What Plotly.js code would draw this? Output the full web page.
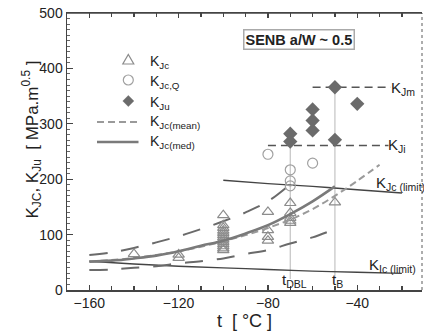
<!DOCTYPE html>
<html>
<head>
<meta charset="utf-8">
<script src="https://cdn.plot.ly/plotly-3.0.1.min.js"></script>
<style>html,body{margin:0;padding:0;background:#fff;}#chart{width:424px;height:331px;}</style>
</head>
<body>
<div id="chart"></div>
<script>
// ---- data ----
var tJc  = [-140, -120, -120, -100, -100, -100, -100, -100, -100, -100, -100, -100, -100, -100, -100, -100, -80, -80, -80, -80, -70, -70, -70, -70, -70, -50];
var KJc  = [65, 64, 58, 135, 117, 112, 107, 103, 99, 95, 91, 87, 83, 79, 75, 72, 141, 108, 96, 89, 157, 139, 130, 125, 121, 158];
var tQ   = [-80, -70, -70, -70, -60];
var KJcQ = [245, 217, 197, 188, 229];
var tU   = [-70, -70, -60, -60, -60, -50, -50, -40];
var KJu  = [282, 268, 326, 306, 288, 366, 271, 336];

var tMean  = [-160, -150, -140, -130, -120, -110, -100, -90, -80, -70, -60, -50, -40, -30];
var KMean  = [52, 54, 58, 63, 70, 78, 88, 99, 112, 127, 146, 170, 197, 226];
var tMed   = [-160, -150, -140, -130, -120, -110, -100, -90, -80, -70, -60, -50];
var KMed   = [51, 53, 57, 62, 70, 80, 89, 102, 117, 137, 160, 187];
var tUpper = [-160, -150, -140, -130, -120, -110, -100, -90, -80, -70];
var KUpper = [63, 68, 76, 86, 97, 110, 124, 140, 160, 191];
var tLower = [-160, -150, -140, -130, -120, -110, -100, -90, -80, -70, -60, -50];
var KLower = [36, 37, 40, 43, 48, 52, 57, 65, 72, 84, 95, 110];
var tJcLim = [-100, -80, -60, -40, -20];
var KJcLim = [198, 192, 187, 181, 175];
var tIcLim = [-160, -140, -120, -100, -80, -60, -40, -20];
var KIcLim = [52, 47, 43, 40, 37, 34, 32, 30];

var tRef      = [-70, -50];          // t_DBL, t_B
var refTop    = [290, 366];
var refBottom = 20;
var KJm = 366, tJmRange = [-60, -25];
var KJi = 261, tJiRange = [-80, -26];

var xTickVals = [-160, -120, -80, -40];
var yTickVals = [0, 100, 200, 300, 400, 500];
var legendNames = ['K<sub>Jc</sub>', 'K<sub>Jc,Q</sub>', 'K<sub>Ju</sub>', 'K<sub>Jc(mean)</sub>', 'K<sub>Jc(med)</sub>'];

// ---- styles ----
var FONT = 'Liberation Sans, Arial, Helvetica, sans-serif';
var C_TRI = '#8c8c8c', C_CIR = '#a0a0a0', C_DIA = '#6b6b6b', C_MEAN = '#9a9a9a', C_MED = '#7a7a7a';
var W = 424, H = 331, ML = 67, MR = 2, MT = 13, MB = 41;
var plotW = W - ML - MR, plotH = H - MT - MB;
function px(x) { return (x - ML) / plotW; }
function py(y) { return 1 - (y - MT) / plotH; }

var traces = [];
tRef.forEach(function (t, i) {
  traces.push({x: [t, t], y: [refBottom, refTop[i]], mode: 'lines', line: {color: '#c4c4c4', width: 1.2}});
});
traces.push({x: tJmRange, y: [KJm, KJm], mode: 'lines', line: {color: '#555', width: 1.5, dash: '8px,5px'}});
traces.push({x: tJiRange, y: [KJi, KJi], mode: 'lines', line: {color: '#555', width: 1.5, dash: '8px,5px'}});
traces.push({x: tJcLim, y: KJcLim, mode: 'lines', line: {color: '#444', width: 1.4, shape: 'spline'}});
traces.push({x: tIcLim, y: KIcLim, mode: 'lines', line: {color: '#444', width: 1.4, shape: 'spline'}});
traces.push({x: tUpper, y: KUpper, mode: 'lines', line: {color: '#6a6a6a', width: 2, dash: '18px,14px', shape: 'spline'}});
traces.push({x: tLower, y: KLower, mode: 'lines', line: {color: '#6a6a6a', width: 2, dash: '18px,14px', shape: 'spline'}});
traces.push({x: tJc, y: KJc, mode: 'markers', marker: {symbol: 'triangle-up-open', size: 10, color: C_TRI, line: {width: 1.2}}});
traces.push({x: tQ, y: KJcQ, mode: 'markers', marker: {symbol: 'circle-open', size: 10, color: C_CIR, line: {width: 1.2}}});
traces.push({x: tU, y: KJu, mode: 'markers', marker: {symbol: 'diamond', size: 11, color: C_DIA}});
traces.push({x: tMean, y: KMean, mode: 'lines', line: {color: C_MEAN, width: 2, dash: '7px,4px', shape: 'spline'}});
traces.push({x: tMed, y: KMed, mode: 'lines', line: {color: C_MED, width: 2.6, shape: 'spline'}});
traces.forEach(function (tr) { tr.showlegend = false; tr.hoverinfo = 'skip'; });

var ann = function (x, y, text) {
  return {x: x, y: y, xref: 'x', yref: 'y', text: text, showarrow: false,
    xanchor: 'left', yanchor: 'middle', font: {family: FONT, size: 15, color: '#222'}};
};

// ---- hand-drawn legend (symbols as shapes, text as annotations) ----
var legRows = [60, 80, 101, 120, 140];
var symX = 128.3, lineX0 = 97, lineX1 = 138.5, textX = 148;
var shapes = [
  {type: 'line', xref: 'paper', yref: 'paper', x0: 1, x1: 1, y0: 0, y1: 1, line: {color: '#777', width: 1.2, dash: 'dot'}},
  {type: 'line', xref: 'paper', yref: 'paper', x0: 0, x1: 1, y0: 1, y1: 1, line: {color: '#444', width: 1.5}}
];
function pathPoly(pts) {
  return 'M' + pts.map(function (p) { return px(p[0]) + ',' + py(p[1]); }).join('L') + 'Z';
}
var r0 = legRows[0], r1 = legRows[1], r2 = legRows[2];
shapes.push({type: 'path', xref: 'paper', yref: 'paper',
  path: pathPoly([[symX - 5.5, r0 + 4], [symX + 5.5, r0 + 4], [symX, r0 - 5.5]]),
  line: {color: C_TRI, width: 1.2}});
shapes.push({type: 'circle', xref: 'paper', yref: 'paper',
  x0: px(symX - 5), x1: px(symX + 5), y0: py(r1 + 5), y1: py(r1 - 5), line: {color: C_CIR, width: 1.2}});
shapes.push({type: 'path', xref: 'paper', yref: 'paper',
  path: pathPoly([[symX - 5.5, r2], [symX, r2 - 5.5], [symX + 5.5, r2], [symX, r2 + 5.5]]),
  fillcolor: C_DIA, line: {color: C_DIA, width: 0.5}});
shapes.push({type: 'line', xref: 'paper', yref: 'paper', x0: px(lineX0), x1: px(lineX1), y0: py(legRows[3] + 2), y1: py(legRows[3] + 2),
  line: {color: C_MEAN, width: 2, dash: '7px,4px'}});
shapes.push({type: 'line', xref: 'paper', yref: 'paper', x0: px(lineX0), x1: px(lineX1), y0: py(legRows[4] + 2), y1: py(legRows[4] + 2),
  line: {color: C_MED, width: 2.6}});

var annotations = [
  {x: -66.3, y: 453, xref: 'x', yref: 'y', text: '<b>SENB a/W ~ 0.5</b>', showarrow: false,
   font: {family: FONT, size: 14.5, color: '#222'}, bordercolor: '#aaa', borderwidth: 1.5,
   borderpad: 1, bgcolor: '#fff', xanchor: 'center', yanchor: 'middle'},
  ann(-26, 364, 'K<sub>Jm</sub>'),
  ann(-27, 260, 'K<sub>Ji</sub>'),
  ann(-32.4, 193, 'K<sub>Jc (limit)</sub>'),
  ann(-35.8, 45, 'K<sub>Ic (limit)</sub>'),
  ann(-74.6, 18, 't<sub>DBL</sub>'),
  ann(-52.2, 18, 't<sub>B</sub>'),
  {x: px(17), y: py(140), xref: 'paper', yref: 'paper',
   text: 'K<sub>JC</sub>, K<sub>Ju</sub>  [ MPa.m<sup>0.5</sup> ]',
   showarrow: false, textangle: -90, font: {family: FONT, size: 17, color: '#222'}}
];
legendNames.forEach(function (name, i) {
  annotations.push({x: px(textX), y: py(legRows[i] + 2), xref: 'paper', yref: 'paper', text: name,
    showarrow: false, xanchor: 'left', yanchor: 'middle', font: {family: FONT, size: 14, color: '#222'}});
});

var layout = {
  width: W, height: H,
  margin: {l: ML, r: MR, t: MT, b: MB},
  paper_bgcolor: '#fff', plot_bgcolor: '#fff',
  font: {family: FONT, color: '#222', size: 14},
  showlegend: false,
  xaxis: {range: [-170, -11], tickvals: xTickVals, ticks: 'inside', ticklen: 5, tickwidth: 1.2,
    tickcolor: '#444', showline: true, linecolor: '#444', linewidth: 1.5, mirror: 'ticks',
    showgrid: false, zeroline: false, tickfont: {family: FONT, size: 14, color: '#222'},
    minor: {dtick: 10, tick0: 0, ticks: 'inside', ticklen: 4, tickcolor: '#444', tickwidth: 1.2, showgrid: false},
    title: {text: 't  [ °C ]', font: {family: FONT, size: 18, color: '#222'}, standoff: 4}},
  yaxis: {range: [0, 500], tickvals: yTickVals, ticks: 'inside', ticklen: 6, tickwidth: 1.2,
    tickcolor: '#444', showline: true, linecolor: '#444', linewidth: 1.5, mirror: false,
    showgrid: false, zeroline: false, tickfont: {family: FONT, size: 14, color: '#222'},
    minor: {dtick: 10, tick0: 0, ticks: 'inside', ticklen: 3, tickcolor: '#666', tickwidth: 1, showgrid: false}},
  shapes: shapes,
  annotations: annotations
};

Plotly.newPlot('chart', traces, layout, {staticPlot: true, displayModeBar: false});
</script>
</body>
</html>
